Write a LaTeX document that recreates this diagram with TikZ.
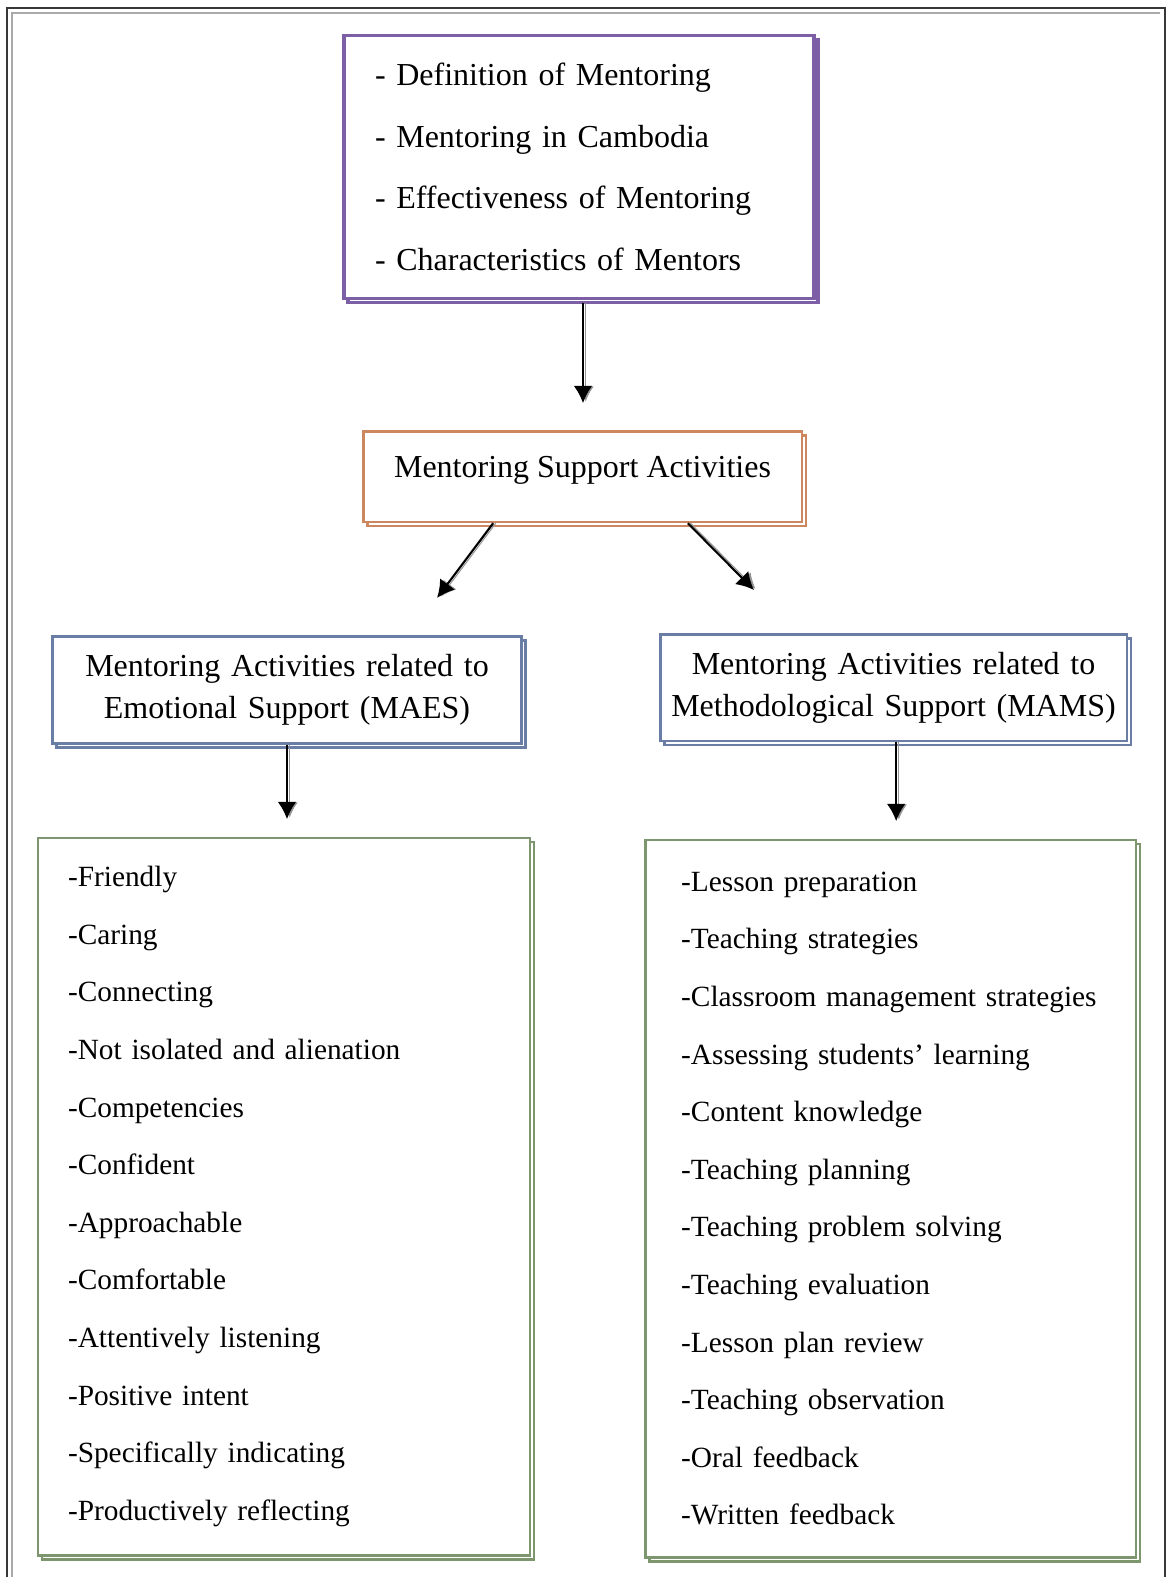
\documentclass[tikz,border=0pt]{standalone}
\usepackage{fontspec}
\setmainfont{Liberation Serif}
\usetikzlibrary{shadows,arrows.meta}

\definecolor{framedark}{RGB}{55,55,55}
\definecolor{framelight}{RGB}{170,170,170}
\definecolor{topicpurple}{RGB}{125,95,165}
\definecolor{supportorange}{RGB}{205,135,95}
\definecolor{maesblue}{RGB}{105,125,165}
\definecolor{listgreen}{RGB}{125,150,110}
\definecolor{arrowgray}{RGB}{150,150,150}

\tikzset{every picture/.style={line width=0.75pt}}
\tikzset{
  boxfont/.style={font=\fontsize{24}{31.5}\selectfont},
  listfont/.style={font=\fontsize{22}{43.2}\selectfont},
  shadowbox/.style={draw=#1, fill=white, line width=2pt,
    copy shadow={shadow xshift=3pt, shadow yshift=-3pt, draw=#1, fill=white}},
  linkarrow/.style={line width=1.6pt, -{Latex[length=13pt,width=14pt]},
    preaction={draw=arrowgray, transform canvas={xshift=2pt}}},
}

\begin{document}
\begin{tikzpicture}[x=0.75pt,y=0.75pt,yscale=-1,xscale=1]
\path[use as bounding box] (0,0) rectangle (1167,1577);
\clip (0,0) rectangle (1167,1577);

%Shape: Frame
\draw [color=framedark, line width=1.5pt] (7,1620) -- (7,8) -- (1165,8) -- (1165,1620) ;
\draw [color=framelight, line width=1.5pt] (12,1620) -- (12,13) -- (1160,13) ;

% Text Node
\node [shadowbox=topicpurple, line width=2.6pt, boxfont, font=\fontsize{24}{46.3}\selectfont, align=left, minimum width=352.5pt, minimum height=197pt, text width=306pt, inner xsep=23pt] (topics) at (579,167) {- Definition of Mentoring\\- Mentoring in Cambodia\\- Effectiveness of Mentoring\\- Characteristics of Mentors};
% Text Node
\node [shadowbox=supportorange, boxfont, align=center, minimum width=329pt, minimum height=68pt, text depth=14pt] (support) at (582.5,476.5) {Mentoring Support Activities};
% Text Node
\node [shadowbox=maesblue, boxfont, align=center, text width=340pt, minimum width=352pt, minimum height=80pt] (maes) at (287,690) {Mentoring Activities related to\\Emotional Support (MAES)};
% Text Node
\node [shadowbox=maesblue, boxfont, align=center, text width=340pt, minimum width=350pt, minimum height=80pt] (mams) at (893.5,687.5) {Mentoring Activities related to\\Methodological Support (MAMS)};
% Text Node
\node [shadowbox=listgreen, listfont, align=left, minimum width=369pt, minimum height=538pt, inner xsep=22.5pt, text width=324pt] (maeslist) at (284,1196.5) {-Friendly\\-Caring\\-Connecting\\-Not isolated and alienation\\-Competencies\\-Confident\\-Approachable\\-Comfortable\\-Attentively listening\\-Positive intent\\-Specifically indicating\\-Productively reflecting};
% Text Node
\node [shadowbox=listgreen, listfont, align=left, minimum width=368pt, minimum height=538pt, inner xsep=27pt, text width=314pt] (mamslist) at (890.5,1198.5) {-Lesson preparation\\-Teaching strategies\\-Classroom management strategies\\-Assessing students' learning\\-Content knowledge\\-Teaching planning\\-Teaching problem solving\\-Teaching evaluation\\-Lesson plan review\\-Teaching observation\\-Oral feedback\\-Written feedback};

%Arrows
\coordinate (maesend) at (437,598);
\coordinate (mamsend) at (754,590);
\draw [linkarrow, shorten <=2pt, shorten >=20pt] ([xshift=3pt]topics.south) -- ([xshift=3pt]topics.south |- support.north) ;
\draw [linkarrow] ([xshift=-67pt]support.south) -- (maesend) ;
\draw [linkarrow] ([xshift=79pt]support.south) -- (mamsend) ;
\draw [linkarrow, shorten >=13pt] (maes.south) -- (maes.south |- maeslist.north) ;
\draw [linkarrow, shorten >=13pt] ([xshift=2pt]mams.south) -- ([xshift=2pt]mams.south |- mamslist.north) ;

\end{tikzpicture}
\end{document}
